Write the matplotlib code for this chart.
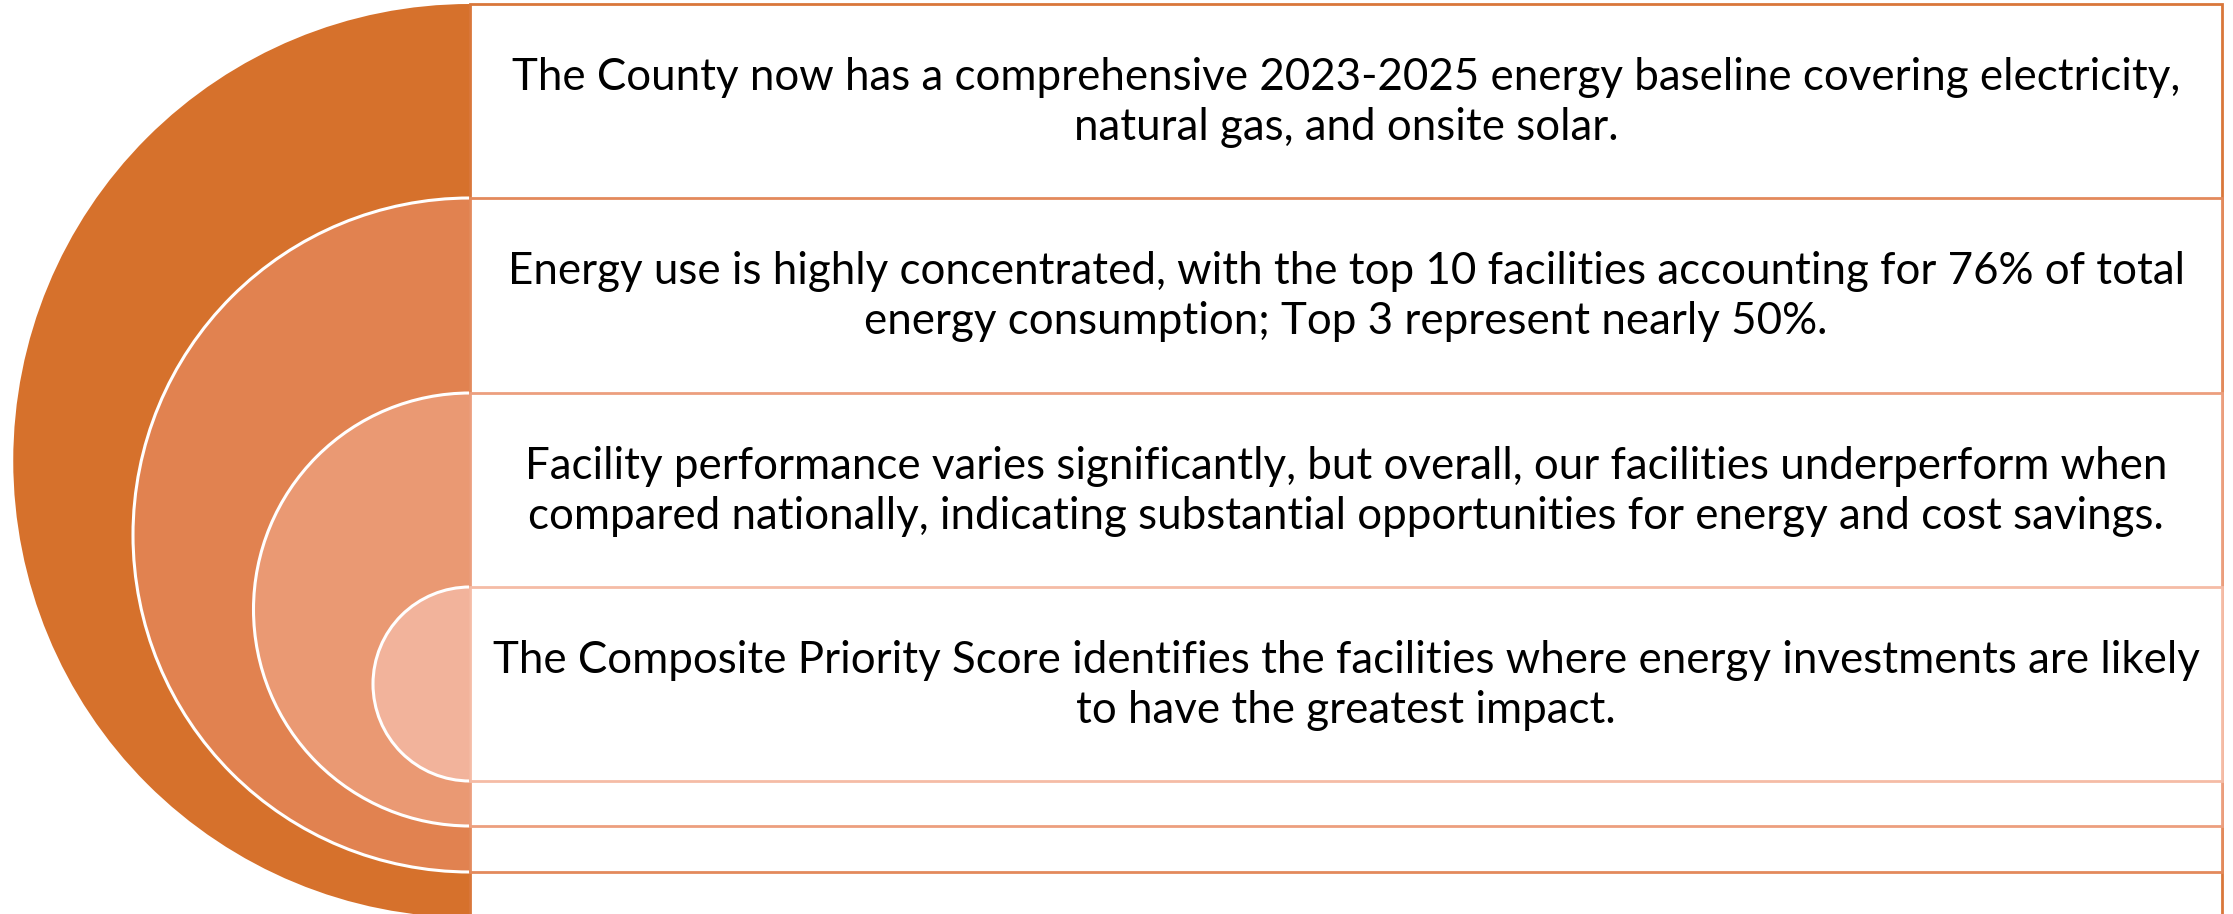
import matplotlib
matplotlib.use("Agg")
import matplotlib.pyplot as plt
from matplotlib.patches import Wedge, Rectangle, Arc

# ---- content ----
statements = [
    ["The County now has a comprehensive 2023-2025 energy baseline covering electricity,",
     "natural gas, and onsite solar."],
    ["Energy use is highly concentrated, with the top 10 facilities accounting for 76% of total",
     "energy consumption; Top 3 represent nearly 50%."],
    ["Facility performance varies significantly, but overall, our facilities underperform when",
     "compared nationally, indicating substantial opportunities for energy and cost savings."],
    ["The Composite Priority Score identifies the facilities where energy investments are likely",
     "to have the greatest impact."],
]
fill_colors = ["#D6712C", "#E18250", "#EA9973", "#F2B39B"]
edge_colors = ["#D9773A", "#E38A5C", "#EC9F7E", "#F5BCA6"]

# ---- layout (pixels) ----
W, H = 2233, 914
fig = plt.figure(figsize=(W / 100, H / 100), dpi=100)
ax = fig.add_axes([0, 0, 1, 1])
ax.set_xlim(0, W)
ax.set_ylim(H, 0)
ax.axis("off")

x_split = 470          # right edge of half-discs / left edge of boxes
x_right = 2222
tops = [4, 198, 393, 587]
bottoms = [917.5, 872, 826, 781]

for i in range(4):
    t, b = tops[i], bottoms[i]
    cy = (t + b) / 2
    r = (b - t) / 2
    ax.add_patch(Wedge((x_split, cy), r, 90, 270, facecolor=fill_colors[i],
                       edgecolor="none", zorder=2 + i))
    if i > 0:
        ax.add_patch(Arc((x_split, cy), 2 * r, 2 * r, theta1=90, theta2=270,
                         edgecolor="white", lw=2.2, zorder=2 + i))

for i in range(4):
    t, b = tops[i], bottoms[i]
    ax.add_patch(Rectangle((x_split, t), x_right - x_split, b - t,
                           facecolor="white", edgecolor=edge_colors[i],
                           lw=2.0, zorder=10 + i))

# ---- text ----
font = "Lato"
xc = (x_split + x_right) / 2
probe = ax.text(0, 0, statements[0][0], fontsize=36, family=font)
fig.canvas.draw()
w = probe.get_window_extent(fig.canvas.get_renderer()).width
probe.remove()
fs = 36 * 1664 / w

for i, lines in enumerate(statements):
    for j, line in enumerate(lines):
        ax.text(xc, tops[i] + 86 + j * 50, line, ha="center", va="baseline",
                fontsize=fs, family=font, color="black", zorder=30)

fig.savefig("out.png", dpi=100, facecolor="white")
